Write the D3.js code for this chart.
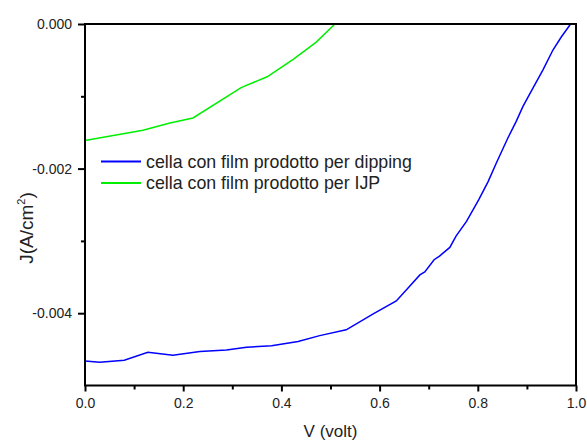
<!DOCTYPE html>
<html><head><meta charset="utf-8">
<script src="https://cdn.jsdelivr.net/npm/d3@7"></script>
<style>body{margin:0;background:#fff}svg{display:block}text{font-family:"Liberation Sans",Arial,sans-serif;fill:#222}</style>
</head><body><svg id="c" width="587" height="441"></svg>
<script>
const dippingV = [0,0.030,0.080,0.128,0.179,0.234,0.288,0.329,0.380,0.434,0.478,0.532,0.587,0.634,0.658,0.682,0.692,0.711,0.722,0.743,0.756,0.777,0.802,0.821,0.838,0.861,0.878,0.892,0.912,0.933,0.953,0.970,0.989];
const dippingJ = [-0.00466,-0.00468,-0.00465,-0.00454,-0.00458,-0.00453,-0.00451,-0.00447,-0.00445,-0.00439,-0.00431,-0.00423,-0.00401,-0.00383,-0.00365,-0.00347,-0.00343,-0.00326,-0.00321,-0.00309,-0.00293,-0.00273,-0.00243,-0.00218,-0.00192,-0.00158,-0.00135,-0.00114,-0.00089,-0.00063,-0.00036,-0.00018,0];
const ijpV = [0,0.118,0.173,0.220,0.318,0.371,0.424,0.471,0.509];
const ijpJ = [-0.00161,-0.00147,-0.00137,-0.00130,-0.00088,-0.00073,-0.00049,-0.00025,0];
const xTicks = [0,0.2,0.4,0.6,0.8,1.0];
const yTicks = [0,-0.002,-0.004];
const legendLabels = ["cella con film prodotto per dipping","cella con film prodotto per IJP"];
const colors = ["#0000ff","#00ee00"];

const svg = d3.select("#c");
const L=85, R=576, T=24, B=385.5;
const x = d3.scaleLinear().domain([0,1]).range([L,R]);
const y = d3.scaleLinear().domain([-0.005,0]).range([B,T]);

// curves
const line = d3.line().x(d=>x(d[0])).y(d=>y(d[1]));
svg.append("path").datum(dippingV.map((v,i)=>[v,dippingJ[i]])).attr("d",line)
  .attr("fill","none").attr("stroke",colors[0]).attr("stroke-width",1.5);
svg.append("path").datum(ijpV.map((v,i)=>[v,ijpJ[i]])).attr("d",line)
  .attr("fill","none").attr("stroke",colors[1]).attr("stroke-width",1.5);

// frame
svg.append("rect").attr("x",L).attr("y",T).attr("width",R-L).attr("height",B-T)
  .attr("fill","none").attr("stroke","#000").attr("stroke-width",2);

// x axis
const xa = svg.append("g").attr("transform",`translate(0,${B})`)
  .call(d3.axisBottom(x).tickValues(xTicks).tickFormat(d3.format(".1f")).tickSize(6).tickPadding(7));
svg.append("g").attr("transform",`translate(0,${B})`)
  .call(d3.axisBottom(x).tickValues([0.1,0.3,0.5,0.7,0.9]).tickFormat("").tickSize(4))
  .call(g=>g.select(".domain").remove());
// y axis
const ya = svg.append("g").attr("transform",`translate(${L},0)`)
  .call(d3.axisLeft(y).tickValues(yTicks).tickFormat(d3.format(".3f")).tickSize(7).tickPadding(6));
svg.append("g").attr("transform",`translate(${L},0)`)
  .call(d3.axisLeft(y).tickValues([-0.001,-0.003]).tickFormat("").tickSize(4))
  .call(g=>g.select(".domain").remove());
svg.selectAll(".tick line").attr("stroke","#000").attr("stroke-width",2);
svg.selectAll(".domain").remove();
svg.selectAll(".tick text").style("font-family","Liberation Sans, Arial, sans-serif").style("font-size","14px").attr("fill","#222");
ya.selectAll(".tick text").text(d=>d===0?"0.000":d3.format(".3f")(d).replace("−","-"));

// axis titles
svg.append("text").attr("x",(L+R)/2).attr("y",437).attr("text-anchor","middle")
  .style("font-size","17px").text("V (volt)");
const yt = svg.append("text").attr("transform","translate(33,228) rotate(-90)").attr("text-anchor","middle")
  .style("font-size","19px");
yt.append("tspan").text("J(A/cm");
yt.append("tspan").attr("dy",-8).style("font-size","11px").text("2");
yt.append("tspan").attr("dy",8).text(")");

// legend
legendLabels.forEach((lab,i)=>{
  const ly = 161.5 + i*21.6;
  svg.append("line").attr("x1",101).attr("x2",141).attr("y1",ly).attr("y2",ly)
    .attr("stroke",colors[i]).attr("stroke-width",2);
  svg.append("text").attr("x",146).attr("y",ly+6).style("font-size","17.8px").text(lab);
});
</script></body></html>
